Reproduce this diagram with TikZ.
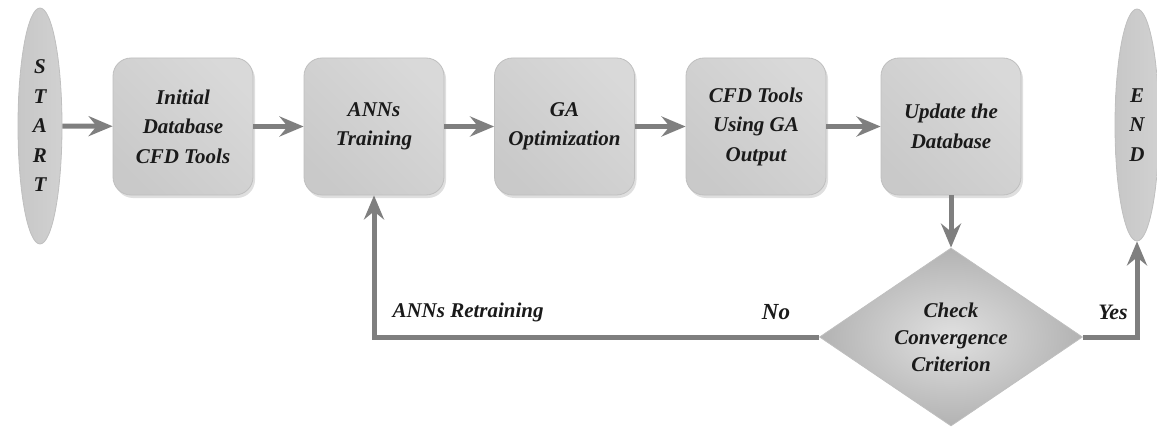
\documentclass[tikz,border=0pt]{standalone}
\usepackage{fontspec}
\setmainfont{Liberation Serif}
\usetikzlibrary{arrows.meta,shapes.geometric,shadows}
\definecolor{arrowgray}{HTML}{7F7F7F}
\definecolor{txt}{HTML}{1A1A1A}
\tikzset{
  lbl/.style={font=\fontsize{21}{29.5}\selectfont\bfseries\itshape, text=txt, align=center},
  box/.style={lbl, rounded corners=18pt, minimum width=140pt, minimum height=137pt, inner sep=0pt,
    draw=black!25, line width=0.8pt,
    left color=black!21, middle color=black!3, right color=black!15, shading angle=135,
    drop shadow={shadow xshift=2pt, shadow yshift=-3pt, opacity=0.25}},
  term/.style={lbl, ellipse, minimum width=44pt, minimum height=236pt, inner sep=0pt,
    draw=black!25, line width=0.8pt,
    left color=black!22, middle color=black!5, right color=black!18},
  decide/.style={lbl, font=\fontsize{21}{27}\selectfont\bfseries\itshape, diamond,
    minimum width=263pt, minimum height=178pt, inner sep=0pt, aspect=1.5,
    draw=black!25, line width=0.8pt, inner color=black!12, outer color=black!30},
  flow/.style={draw=arrowgray, line width=5pt, -{Stealth[length=24pt,width=20pt,inset=8pt]}},
}
\begin{document}
\begin{tikzpicture}[x=1pt,y=1pt]
\useasboundingbox (0,0) rectangle (1157,432);
\node[term] (start) at (40,306) {S\\T\\A\\R\\T};
\node[box] (init) at (183,305.5) {Initial\\Database\\CFD Tools};
\node[box] (ann) at (374,305.5) {ANNs\\Training};
\node[box] (ga) at (564.5,305.5) {GA\\Optimization};
\node[box] (cfd) at (756,305.5) {CFD Tools\\Using GA\\Output};
\node[box] (upd) at (951,305.5) {Update the\\Database};
\node[term, minimum width=44pt, minimum height=232pt] (end) at (1137,307) {E\\N\\D};
\node[decide] (chk) at (951,95) {Check\\Convergence\\Criterion};

\draw[flow] (start) -- (init);
\draw[flow] (init) -- (ann);
\draw[flow] (ann) -- (ga);
\draw[flow] (ga) -- (cfd);
\draw[flow] (cfd) -- (upd);
\draw[flow] (upd) -- (chk);
\draw[flow] (chk.west) -| (ann.south);
\draw[flow] (chk.east) -| (end.south);

\node[lbl, anchor=west, font=\fontsize{21}{29}\selectfont\bfseries\itshape] (retr) at (389,120) {ANNs Retraining};
\node[lbl, font=\fontsize{23}{29}\selectfont\bfseries\itshape] (no) at (776,120) {No};
\node[lbl, font=\fontsize{22}{29}\selectfont\bfseries\itshape] (yes) at (1113,120) {Yes};
\end{tikzpicture}
\end{document}
